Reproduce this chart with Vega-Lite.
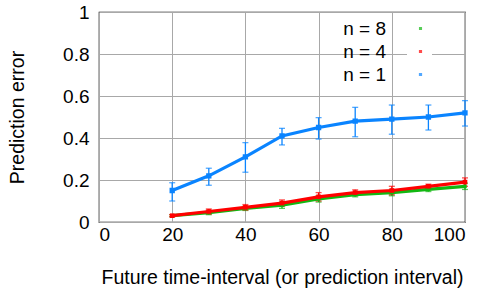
{
  "$schema": "https://vega.github.io/schema/vega-lite/v6.json",
  "autosize": {"type": "none"},
  "padding": {"left": 99, "top": 12, "right": 20, "bottom": 71},
  "width": 366,
  "height": 210,
  "background": "white",
  "config": {
    "font": "Liberation Sans",
    "view": {"stroke": "black", "strokeWidth": 1.2},
    "axis": {
      "labelFont": "Liberation Sans",
      "titleFont": "Liberation Sans",
      "labelFontSize": 19,
      "titleFontSize": 19.5,
      "titleFontWeight": "normal",
      "labelColor": "black",
      "titleColor": "black",
      "domain": false,
      "ticks": false,
      "gridColor": "#a8a8a8",
      "gridWidth": 1,
      "gridOpacity": 1
    }
  },
  "data": {
    "values": [
      {"x": 20, "n": "n = 8", "err": 0.03, "lo": 0.025, "hi": 0.035},
      {"x": 30, "n": "n = 8", "err": 0.045, "lo": 0.035, "hi": 0.055},
      {"x": 40, "n": "n = 8", "err": 0.065, "lo": 0.055, "hi": 0.075},
      {"x": 50, "n": "n = 8", "err": 0.08, "lo": 0.065, "hi": 0.095},
      {"x": 60, "n": "n = 8", "err": 0.11, "lo": 0.095, "hi": 0.125},
      {"x": 70, "n": "n = 8", "err": 0.13, "lo": 0.12, "hi": 0.14},
      {"x": 80, "n": "n = 8", "err": 0.14, "lo": 0.125, "hi": 0.155},
      {"x": 90, "n": "n = 8", "err": 0.155, "lo": 0.145, "hi": 0.165},
      {"x": 100, "n": "n = 8", "err": 0.17, "lo": 0.155, "hi": 0.185},
      {"x": 20, "n": "n = 4", "err": 0.03, "lo": 0.025, "hi": 0.035},
      {"x": 30, "n": "n = 4", "err": 0.05, "lo": 0.038, "hi": 0.062},
      {"x": 40, "n": "n = 4", "err": 0.07, "lo": 0.057, "hi": 0.083},
      {"x": 50, "n": "n = 4", "err": 0.09, "lo": 0.075, "hi": 0.105},
      {"x": 60, "n": "n = 4", "err": 0.12, "lo": 0.1, "hi": 0.14},
      {"x": 70, "n": "n = 4", "err": 0.14, "lo": 0.127, "hi": 0.153},
      {"x": 80, "n": "n = 4", "err": 0.15, "lo": 0.13, "hi": 0.17},
      {"x": 90, "n": "n = 4", "err": 0.17, "lo": 0.16, "hi": 0.18},
      {"x": 100, "n": "n = 4", "err": 0.19, "lo": 0.17, "hi": 0.21},
      {"x": 20, "n": "n = 1", "err": 0.15, "lo": 0.1, "hi": 0.187},
      {"x": 30, "n": "n = 1", "err": 0.22, "lo": 0.175, "hi": 0.256},
      {"x": 40, "n": "n = 1", "err": 0.31, "lo": 0.237, "hi": 0.378},
      {"x": 50, "n": "n = 1", "err": 0.41, "lo": 0.367, "hi": 0.446},
      {"x": 60, "n": "n = 1", "err": 0.45, "lo": 0.395, "hi": 0.497},
      {"x": 70, "n": "n = 1", "err": 0.48, "lo": 0.406, "hi": 0.546},
      {"x": 80, "n": "n = 1", "err": 0.49, "lo": 0.418, "hi": 0.557},
      {"x": 90, "n": "n = 1", "err": 0.5, "lo": 0.438, "hi": 0.557},
      {"x": 100, "n": "n = 1", "err": 0.52, "lo": 0.457, "hi": 0.578}
    ]
  },
  "encoding": {
    "x": {
      "field": "x", "type": "quantitative",
      "scale": {"domain": [0, 100], "nice": false},
      "axis": {"values": [0, 20, 40, 60, 80, 100], "title": "Future time-interval (or prediction interval)", "labelPadding": 3, "titlePadding": 24}
    },
    "color": {
      "field": "n", "type": "nominal",
      "scale": {"domain": ["n = 8", "n = 4", "n = 1"], "range": ["#12b812", "#ff0000", "#0a84ff"]},
      "legend": {
        "title": null,
        "orient": "none",
        "legendX": 308,
        "legendY": 3,
        "symbolType": "M-1,0L1,0M-0.08,-0.08L0.08,-0.08L0.08,0.08L-0.08,0.08Z",
        "symbolSize": 2400,
        "symbolStrokeWidth": 3,
        "labelAlign": "right",
        "labelOffset": -44,
        "labelFontSize": 19,
        "labelFont": "Liberation Sans",
        "labelColor": "black",
        "rowPadding": 3,
        "fillColor": "white",
        "padding": 4
      }
    }
  },
  "layer": [
    {
      "mark": {"type": "errorbar", "ticks": {"size": 6}, "thickness": 1.3},
      "encoding": {
        "y": {"field": "lo", "type": "quantitative", "scale": {"domain": [0, 1], "nice": false}, "title": "Prediction error"},
        "y2": {"field": "hi"}
      }
    },
    {
      "mark": {"type": "line", "strokeWidth": 3.2},
      "encoding": {
        "y": {
          "field": "err", "type": "quantitative",
          "scale": {"domain": [0, 1], "nice": false},
          "title": "Prediction error",
          "axis": {"values": [0, 0.2, 0.4, 0.6, 0.8, 1], "format": "~g", "labelPadding": 10, "titlePadding": 35}
        }
      }
    },
    {
      "mark": {"type": "square", "filled": false, "strokeWidth": 2.5, "opacity": 1},
      "encoding": {
        "y": {"field": "err", "type": "quantitative", "title": "Prediction error"},
        "size": {
          "field": "n", "type": "nominal",
          "scale": {"domain": ["n = 8", "n = 4", "n = 1"], "range": [1, 8, 30]},
          "legend": null
        }
      }
    }
  ]
}
